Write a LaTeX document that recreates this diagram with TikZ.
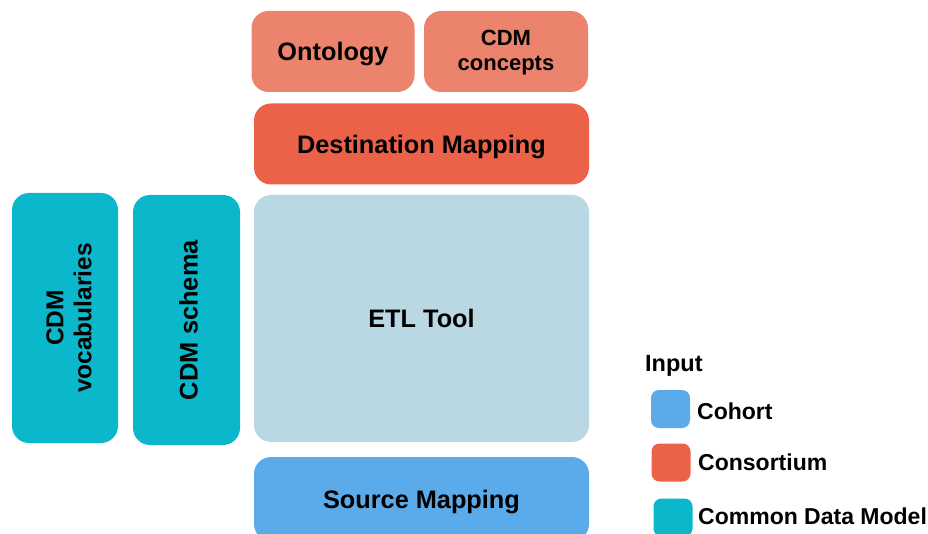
\documentclass[tikz,border=0pt]{standalone}
\usepackage{fontspec}
\setmainfont{Liberation Sans}
\definecolor{ontoC}{HTML}{EC836C}
\definecolor{consC}{HTML}{EC6249}
\definecolor{etlC}{HTML}{BAD7E4}
\definecolor{cohortC}{HTML}{5BAAE9}
\definecolor{cdmC}{HTML}{0BB7CB}
\tikzset{
  block/.style={rounded corners=17pt, inner sep=0pt, align=center,
    text height=18.1pt, text depth=0pt,
    font=\bfseries\fontsize{25.3}{27}\selectfont, text=black},
  plainbox/.style={rounded corners=17pt, inner sep=0pt},
  boxtext/.style={inner sep=0pt, align=center, text=black},
  swatch/.style={rounded corners=8pt, minimum width=39pt, minimum height=38pt, inner sep=0pt},
  legtext/.style={anchor=west, inner sep=0pt, text height=16.5pt, text depth=0pt,
    font=\bfseries\fontsize{23}{25}\selectfont}
}
\begin{document}
\begin{tikzpicture}[x=1pt,y=-1pt]
\useasboundingbox (0,0) rectangle (928,534);
\begin{scope}
\clip (0,0) rectangle (928,534);
% consortium inputs
\node[block, fill=ontoC, minimum width=163pt, minimum height=81pt] (onto) at (333,51.5) {Ontology};
\node[plainbox, fill=ontoC, minimum width=164pt, minimum height=81pt] (concepts) at (506,51.5) {};
\node[boxtext, font=\bfseries\fontsize{22}{25}\selectfont] (conceptstxt) at (506,53) {CDM\\concepts};
\node[block, fill=consC, minimum width=335pt, minimum height=81pt] (dest) at (421.5,144) {Destination Mapping};
% tool
\node[block, fill=etlC, minimum width=335pt, minimum height=247pt] (etl) at (421.5,318.5) {ETL Tool};
% cohort input
\node[block, fill=cohortC, minimum width=335pt, minimum height=84pt] (src) at (421.5,499) {Source Mapping};
% common data model inputs
\node[plainbox, fill=cdmC, minimum width=106pt, minimum height=250pt] (vocab) at (65,318) {};
\node[boxtext, rotate=90, font=\bfseries\fontsize{24.5}{28}\selectfont] (vocabtxt) at (69,318) {CDM\\vocabularies};
\node[plainbox, fill=cdmC, minimum width=107pt, minimum height=250pt] (schema) at (186.5,320) {};
\node[boxtext, rotate=90, font=\bfseries\fontsize{25.5}{27}\selectfont] (schematxt) at (188.5,320) {CDM schema};
% legend
\node[legtext, text height=17pt, font=\bfseries\fontsize{23.5}{25}\selectfont] (leghead) at (645,362.5) {Input};
\node[swatch, fill=cohortC] (sw1) at (670.5,409) {};
\node[legtext] (lab1) at (697,411.5) {Cohort};
\node[swatch, fill=consC] (sw2) at (671,462.5) {};
\node[legtext] (lab2) at (698,462.5) {Consortium};
\node[swatch, fill=cdmC] (sw3) at (673,517.5) {};
\node[legtext] (lab3) at (698,516) {Common Data Model};
\end{scope}
\end{tikzpicture}
\end{document}
